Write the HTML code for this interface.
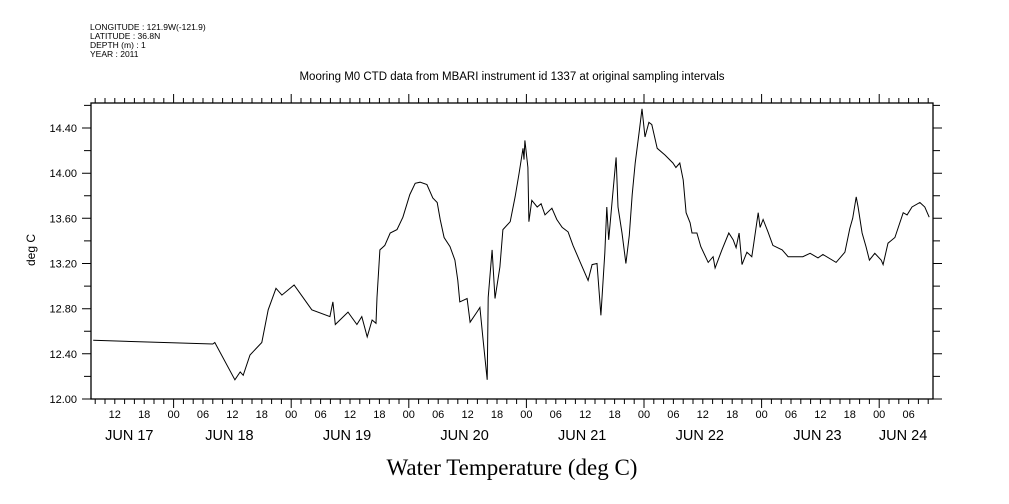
<!DOCTYPE html>
<html><head><meta charset="utf-8"><style>
html,body{margin:0;padding:0;background:#fff;}
svg{display:block;font-family:"Liberation Sans",sans-serif;}
</style></head><body>
<svg id="chart" width="1009" height="504" viewBox="0 0 1009 504" xmlns="http://www.w3.org/2000/svg">
<g font-size="8.5" fill="#000">
<text x="90" y="30">LONGITUDE : 121.9W(-121.9)</text>
<text x="90" y="39">LATITUDE : 36.8N</text>
<text x="90" y="48">DEPTH (m) : 1</text>
<text x="90" y="57">YEAR : 2011</text>
</g>
<text x="512" y="80" text-anchor="middle" font-size="11.5">Mooring M0 CTD data from MBARI instrument id 1337 at original sampling intervals</text>
<text transform="translate(35,250) rotate(-90)" text-anchor="middle" font-size="12">deg C</text>
<text x="512" y="475" text-anchor="middle" font-size="23" font-family="Liberation Serif, serif">Water Temperature (deg C)</text>
<g id="axes"></g>
<g id="plot"></g>
</svg>
<script>
// hours since Jun 17 00:00
const hours = [7.6,32.0,32.4,36.5,37.6,38.2,39.6,42,43.3,44.9,46.1,48.6,50.4,52.2,55.9,56.5,57,59.6,61.4,62.4,63.5,64.5,65.3,65.5,66.1,67.1,68.2,69.6,70.8,72.2,73.3,74.3,75.7,76.9,77.8,78.4,79.2,80.4,81.4,82.0,82.4,83.9,84.5,85.9,86.5,87.1,88.0,88.2,89.0,89.6,90.6,91.2,92.7,93.7,94.5,95.3,95.5,95.7,96.3,96.5,97.1,98.2,99.0,99.8,101.2,102.2,103.3,104.5,105.5,107,108.6,109.4,110.4,111.2,112,112.4,112.8,113.5,114.3,114.5,114.7,115.5,116.3,117,117.6,118.2,119,119.6,120.2,121.0,121.6,122.7,124.3,125.9,126.5,127.3,128,128.6,129.4,129.8,130.8,131.6,133.1,134.1,134.5,135.9,137.3,138.2,138.8,139.4,140,141,142,142.4,143.3,143.7,144.3,145.3,146.3,148.2,149.4,150.4,152.4,153.9,155.5,156.5,159.2,161,162,162.6,163.3,163.7,164.5,165.3,166,167.1,168.4,168.8,169.8,171.2,172.9,173.7,174.7,176.3,177.3,178.2];
const temps = [12.52,12.487,12.50,12.17,12.24,12.21,12.39,12.50,12.79,12.98,12.92,13.01,12.90,12.79,12.73,12.86,12.66,12.77,12.66,12.73,12.55,12.70,12.67,12.90,13.32,13.36,13.47,13.50,13.61,13.81,13.91,13.92,13.90,13.78,13.74,13.59,13.43,13.35,13.23,13.05,12.86,12.89,12.68,12.77,12.81,12.55,12.17,12.90,13.32,12.89,13.17,13.50,13.57,13.79,14.00,14.22,14.12,14.29,14.05,13.57,13.76,13.70,13.73,13.63,13.69,13.59,13.52,13.48,13.36,13.21,13.05,13.19,13.20,12.74,13.29,13.70,13.41,13.76,14.14,13.91,13.70,13.47,13.20,13.45,13.81,14.09,14.36,14.57,14.32,14.45,14.43,14.22,14.16,14.09,14.05,14.09,13.94,13.65,13.56,13.47,13.47,13.35,13.21,13.26,13.16,13.32,13.47,13.41,13.34,13.47,13.19,13.30,13.26,13.38,13.65,13.52,13.59,13.48,13.36,13.32,13.26,13.26,13.26,13.29,13.25,13.28,13.21,13.30,13.51,13.60,13.79,13.70,13.47,13.35,13.23,13.29,13.23,13.19,13.38,13.43,13.65,13.63,13.70,13.74,13.70,13.61];
const yTicks = [12.0,12.4,12.8,13.2,13.6,14.0,14.4];
const yTickLabels = ["12.00","12.40","12.80","13.20","13.60","14.00","14.40"];
const hourLabels = ["00","06","12","18"];
const dayLabels = ["JUN 17","JUN 18","JUN 19","JUN 20","JUN 21","JUN 22","JUN 23","JUN 24"];

const L=91,R=933,T=103,B=399;
const hMin=(L-56)/4.9, hMax=(R-56)/4.9;
function xs(h){return L+(h-hMin)*(R-L)/(hMax-hMin);}
function ys(v){return B-(v-12)*(B-128)/2.4;}
const NS="http://www.w3.org/2000/svg";
function mk(tag,attrs,parent){const e=document.createElementNS(NS,tag);for(const k in attrs)e.setAttribute(k,attrs[k]);parent.appendChild(e);return e;}
const ax=document.getElementById('axes'), plot=document.getElementById('plot');
const frame=mk('rect',{x:L,y:T,width:R-L,height:B-T,fill:'none',stroke:'#000','stroke-width':1.3},ax);


let d='';
for(let v=12.0;v<=14.61;v+=0.2){const y=ys(v).toFixed(1);const major=Math.round(v*10)%4===0;const len=major?9:7;d+=`M${L-len} ${y}H${L}M${R} ${y}H${R+len}`;}
for(let h=Math.ceil(hMin/2)*2;h<=hMax;h+=2){const x=xs(h).toFixed(1);const len=(h%24===0)?9:5;d+=`M${x} ${B}V${B+len}M${x} ${T}V${T-len}`;}
const ticks=mk('path',{d:d,stroke:'#000','stroke-width':1,fill:'none'},ax);


yTicks.forEach((v,i)=>{const t=mk('text',{x:77,y:ys(v)+4,'text-anchor':'end','font-size':11},ax);t.textContent=yTickLabels[i];

});
for(let h=Math.ceil(hMin/6)*6;h<=hMax;h+=6){const t=mk('text',{x:xs(h),y:418,'text-anchor':'middle','font-size':11},ax);t.textContent=hourLabels[(h/6)%4];

}
dayLabels.forEach((lab,i)=>{const a=Math.max(i*24,hMin),b=Math.min(i*24+24,hMax);const t=mk('text',{x:xs((a+b)/2)-3,y:440,'text-anchor':'middle','font-size':14.5},ax);t.textContent=lab;

});
const pts=hours.map((h,i)=>xs(h).toFixed(1)+','+ys(temps[i]).toFixed(1)).join(' ');
const line=mk('polyline',{points:pts,fill:'none',stroke:'#000','stroke-width':1},plot);


</script>
</body></html>
